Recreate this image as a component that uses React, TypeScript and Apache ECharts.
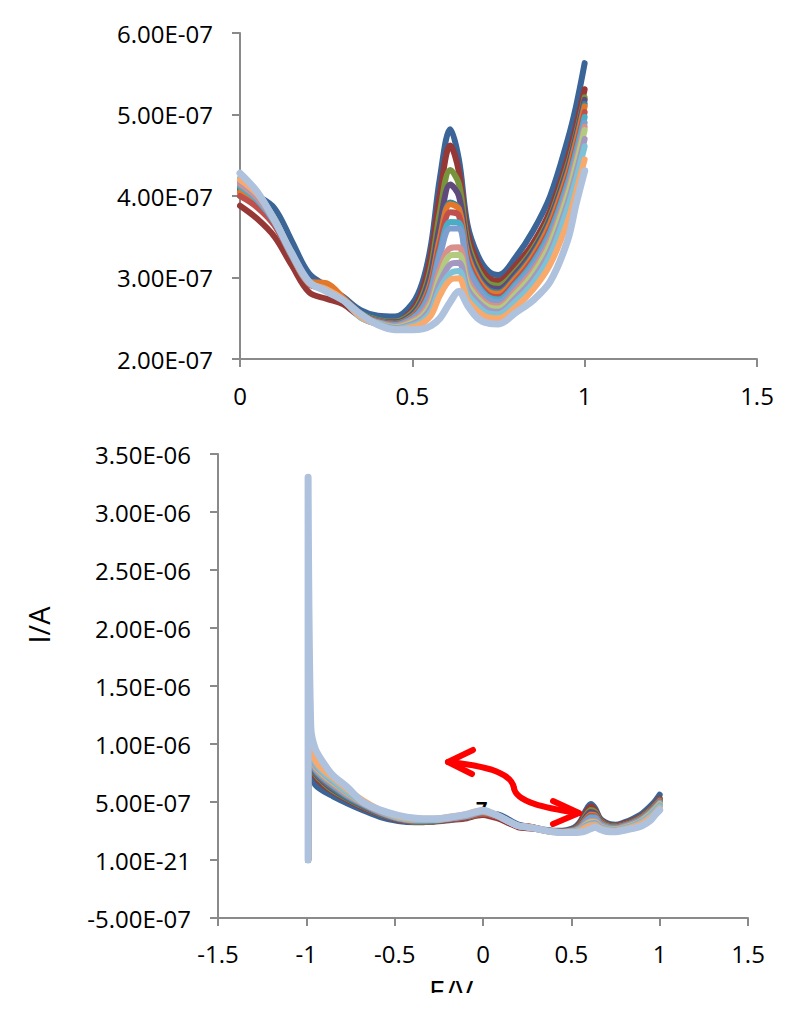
import { useEffect, useRef } from 'react';
import * as echarts from 'echarts';

// Potential E (V); the first two points are the start of the scan (current 0, then the spike)
const X = [-0.99, -0.99, -0.975, -0.95, -0.9, -0.85, -0.77, -0.68, -0.58, -0.48, -0.38, -0.28, -0.18, -0.09, -0.04,
  0, 0.05, 0.1, 0.15, 0.2, 0.25, 0.3, 0.35, 0.4, 0.45, 0.5, 0.53, 0.555, 0.58, 0.61, 0.635, 0.66, 0.69, 0.72, 0.75,
  0.8, 0.85, 0.9, 0.95, 0.975, 1];

// Currents in units of 1E-07 A
const S1 = [0, 9.5, 7.4, 6.5, 5.9, 5.5, 4.9, 4.3, 3.7, 3.35, 3.25, 3.35, 3.55, 3.75, 3.95,
  4.08, 4.00, 3.85, 3.45, 3.05, 2.90, 2.76, 2.60, 2.53, 2.52, 2.68, 2.95, 3.42, 4.22, 4.82, 4.45, 3.65, 3.27, 3.08, 3.03, 3.25, 3.57, 4.00, 4.68, 5.10, 5.63];
const S2 = [0, 9.8, 8.2, 7.2, 6.4, 5.9, 5.2, 4.5, 3.9, 3.45, 3.3, 3.3, 3.45, 3.6, 3.8,
  3.88, 3.72, 3.50, 3.15, 2.82, 2.74, 2.67, 2.52, 2.47, 2.46, 2.60, 2.85, 3.30, 4.02, 4.62, 4.30, 3.55, 3.18, 3.00, 2.96, 3.15, 3.42, 3.82, 4.45, 4.85, 5.31];
const S3 = [0, 10, 8.4, 7.4, 6.6, 6.0, 5.3, 4.6, 3.95, 3.5, 3.3, 3.35, 3.5, 3.7, 3.9,
  4.00, 3.88, 3.65, 3.28, 2.95, 2.90, 2.74, 2.56, 2.48, 2.46, 2.57, 2.78, 3.15, 3.80, 4.32, 4.15, 3.45, 3.10, 2.93, 2.90, 3.08, 3.35, 3.75, 4.37, 4.76, 5.21];
const S4 = [0, 10.2, 8.5, 7.5, 6.7, 6.1, 5.35, 4.65, 4.0, 3.5, 3.35, 3.35, 3.5, 3.7, 3.95,
  4.05, 3.90, 3.66, 3.27, 2.93, 2.86, 2.72, 2.55, 2.47, 2.45, 2.55, 2.74, 3.07, 3.65, 4.14, 4.00, 3.38, 3.05, 2.89, 2.86, 3.05, 3.32, 3.72, 4.33, 4.73, 5.18];
const S5 = [0, 10.5, 8.6, 7.6, 6.8, 6.2, 5.4, 4.7, 4.0, 3.55, 3.35, 3.4, 3.55, 3.75, 4.0,
  4.10, 3.93, 3.68, 3.28, 2.93, 2.88, 2.73, 2.55, 2.47, 2.44, 2.53, 2.70, 2.98, 3.50, 3.92, 3.85, 3.30, 3.00, 2.85, 2.82, 3.01, 3.28, 3.68, 4.28, 4.68, 5.13];
const S6 = [0, 22, 9.0, 8.0, 7.2, 6.6, 5.7, 4.9, 4.15, 3.65, 3.45, 3.45, 3.6, 3.8, 4.0,
  4.05, 3.90, 3.66, 3.28, 2.95, 2.93, 2.75, 2.55, 2.46, 2.43, 2.52, 2.68, 2.96, 3.48, 3.90, 3.84, 3.28, 2.98, 2.83, 2.80, 2.99, 3.26, 3.66, 4.26, 4.66, 5.10];
const S7 = [0, 10.8, 8.7, 7.7, 6.9, 6.3, 5.5, 4.75, 4.05, 3.55, 3.35, 3.4, 3.55, 3.75, 3.95,
  4.00, 3.86, 3.64, 3.26, 2.92, 2.86, 2.72, 2.54, 2.46, 2.43, 2.51, 2.66, 2.92, 3.40, 3.80, 3.76, 3.22, 2.94, 2.79, 2.76, 2.95, 3.22, 3.60, 4.20, 4.59, 5.03];
const S8 = [0, 11, 8.8, 7.8, 7.0, 6.4, 5.55, 4.8, 4.1, 3.6, 3.4, 3.4, 3.6, 3.8, 4.0,
  4.12, 3.95, 3.68, 3.27, 2.93, 2.86, 2.72, 2.53, 2.45, 2.42, 2.50, 2.63, 2.87, 3.32, 3.68, 3.67, 3.16, 2.90, 2.76, 2.73, 2.92, 3.18, 3.56, 4.15, 4.54, 4.97];
const S9 = [0, 11.5, 8.9, 7.9, 7.1, 6.5, 5.6, 4.85, 4.1, 3.6, 3.4, 3.45, 3.6, 3.8, 4.05,
  4.15, 3.97, 3.69, 3.27, 2.93, 2.85, 2.72, 2.53, 2.45, 2.41, 2.49, 2.61, 2.84, 3.27, 3.60, 3.60, 3.12, 2.87, 2.73, 2.70, 2.89, 3.14, 3.51, 4.10, 4.48, 4.90];
const S10 = [0, 12, 9.0, 8.0, 7.2, 6.6, 5.7, 4.9, 4.15, 3.65, 3.45, 3.45, 3.6, 3.8, 4.05,
  4.15, 3.98, 3.70, 3.28, 2.93, 2.85, 2.72, 2.52, 2.44, 2.40, 2.47, 2.56, 2.74, 3.10, 3.36, 3.37, 2.98, 2.78, 2.67, 2.65, 2.84, 3.08, 3.45, 4.04, 4.43, 4.85];
const S11 = [0, 13, 9.2, 8.1, 7.3, 6.7, 5.8, 4.95, 4.2, 3.65, 3.45, 3.45, 3.65, 3.85, 4.1,
  4.20, 4.02, 3.72, 3.29, 2.94, 2.85, 2.72, 2.52, 2.44, 2.39, 2.45, 2.53, 2.69, 3.02, 3.27, 3.28, 2.92, 2.74, 2.64, 2.62, 2.80, 3.04, 3.41, 4.00, 4.38, 4.81];
const S12 = [0, 14, 9.4, 8.2, 7.4, 6.8, 5.85, 5.0, 4.2, 3.7, 3.5, 3.5, 3.65, 3.85, 4.1,
  4.18, 4.00, 3.71, 3.29, 2.94, 2.84, 2.72, 2.51, 2.43, 2.38, 2.43, 2.50, 2.64, 2.94, 3.16, 3.18, 2.86, 2.70, 2.60, 2.58, 2.75, 2.98, 3.33, 3.91, 4.28, 4.70];
const S13 = [0, 16, 9.6, 8.4, 7.5, 6.9, 5.9, 5.05, 4.25, 3.7, 3.5, 3.5, 3.7, 3.9, 4.15,
  4.22, 4.03, 3.72, 3.30, 2.95, 2.84, 2.72, 2.51, 2.43, 2.37, 2.41, 2.47, 2.59, 2.86, 3.05, 3.08, 2.80, 2.65, 2.56, 2.55, 2.71, 2.93, 3.27, 3.84, 4.20, 4.61];
const S14 = [0, 19, 10.0, 8.6, 7.7, 7.1, 6.1, 5.15, 4.3, 3.75, 3.55, 3.55, 3.75, 3.95, 4.2,
  4.20, 4.02, 3.71, 3.29, 2.94, 2.86, 2.73, 2.52, 2.42, 2.36, 2.39, 2.44, 2.54, 2.78, 2.97, 2.99, 2.73, 2.59, 2.51, 2.50, 2.64, 2.85, 3.16, 3.68, 4.05, 4.45];
const S15 = [0, 33, 11.5, 9.6, 8.3, 7.3, 6.3, 5.0, 4.3, 3.85, 3.6, 3.55, 3.7, 3.95, 4.15,
  4.28, 4.05, 3.70, 3.30, 2.95, 2.83, 2.72, 2.55, 2.42, 2.36, 2.36, 2.37, 2.41, 2.50, 2.70, 2.83, 2.66, 2.50, 2.44, 2.43, 2.57, 2.72, 2.95, 3.45, 3.90, 4.31];

const SERIES = [S1, S2, S3, S4, S5, S6, S7, S8, S9, S10, S11, S12, S13, S14, S15];
const COLORS = ['#3B6497', '#963836', '#77933C', '#604A7B', '#31859C', '#E4782A', '#C0504D', '#4BACC6',
  '#7E9ECF', '#D98F8C', '#B2CB80', '#A598C0', '#7DC2D6', '#F9A96C', '#AEC1DD'];

const TOP_X_TICKS = ['0', '0.5', '1', '1.5'];
const TOP_Y_TICKS = ['2.00E-07', '3.00E-07', '4.00E-07', '5.00E-07', '6.00E-07'];
const BOT_X_TICKS = ['-1.5', '-1', '-0.5', '0', '0.5', '1', '1.5'];
const BOT_Y_TICKS = ['-5.00E-07', '1.00E-21', '5.00E-07', '1.00E-06', '1.50E-06', '2.00E-06', '2.50E-06', '3.00E-06', '3.50E-06'];
const Y_TITLE = 'I/A';
const X_TITLE = 'E/V';
const STRAY_LABEL = '7';

const FONT = '"Open Sans", "Noto Sans", sans-serif';
const AXIS_COLOR = '#8A8A8A';

function axisCommon() {
  return {
    axisLine: { show: true, onZero: false, lineStyle: { color: AXIS_COLOR, width: 2 } },
    axisTick: { show: true, length: 8, lineStyle: { color: AXIS_COLOR, width: 2 } },
    splitLine: { show: false },
    axisLabel: { color: '#000', fontSize: 24, fontFamily: FONT },
  };
}

export default function App() {
  const ref = useRef<HTMLDivElement>(null);
  useEffect(() => {
    const chart = echarts.init(ref.current!, null, { renderer: 'svg' });
    const top: any[] = [];
    const bottom: any[] = [];
    SERIES.forEach((vals, i) => {
      const full = X.map((x, j) => [x, vals[j]]);
      const lw = i === SERIES.length - 1 ? 7 : 6;
      top.push({
        type: 'line', name: 'Scan ' + (i + 1), xAxisIndex: 0, yAxisIndex: 0,
        data: full.filter((p) => p[0] >= 0), showSymbol: false, smooth: 0.35, clip: true,
        lineStyle: { color: COLORS[i], width: lw, cap: 'round', join: 'round' },
        itemStyle: { color: COLORS[i] }, silent: true,
      });
      bottom.push({
        type: 'line', name: 'Scan ' + (i + 1), xAxisIndex: 1, yAxisIndex: 1,
        data: full, showSymbol: false, smooth: 0.3, clip: true,
        lineStyle: { color: COLORS[i], width: lw, cap: 'round', join: 'round' },
        itemStyle: { color: COLORS[i] }, silent: true,
      });
    });

    const arrowStyle = { stroke: '#FF0000', lineWidth: 6, fill: null, lineCap: 'round', lineJoin: 'round' };

    chart.setOption({
      animation: false,
      backgroundColor: '#fff',
      textStyle: { fontFamily: FONT },
      grid: [
        { left: 240, top: 33, width: 517, height: 326 },
        { left: 218, top: 454, width: 530, height: 464 },
      ],
      xAxis: [
        {
          ...axisCommon(), gridIndex: 0, type: 'value', min: 0, max: 1.5, interval: 0.5,
          axisLabel: { ...axisCommon().axisLabel, margin: 24, formatter: (v: number) => TOP_X_TICKS[Math.round(v / 0.5)] },
        },
        {
          ...axisCommon(), gridIndex: 1, type: 'value', min: -1.5, max: 1.5, interval: 0.5,
          axisLabel: { ...axisCommon().axisLabel, margin: 23, formatter: (v: number) => BOT_X_TICKS[Math.round((v + 1.5) / 0.5)] },
        },
      ],
      yAxis: [
        {
          ...axisCommon(), gridIndex: 0, type: 'value', min: 2, max: 6, interval: 1,
          axisLabel: { ...axisCommon().axisLabel, margin: 27, formatter: (v: number) => TOP_Y_TICKS[Math.round(v - 2)] },
        },
        {
          ...axisCommon(), gridIndex: 1, type: 'value', min: -5, max: 35, interval: 5,
          axisLabel: { ...axisCommon().axisLabel, margin: 27, formatter: (v: number) => BOT_Y_TICKS[Math.round((v + 5) / 5)] },
        },
      ],
      series: top.concat(bottom),
      graphic: [
        {
          type: 'text', z: 0, left: 476, top: 798,
          style: { text: STRAY_LABEL, fontSize: 20, fontFamily: FONT, fontWeight: 'bold', fill: '#000' },
        },
        {
          type: 'text', z: 5, x: 38, y: 625, rotation: Math.PI / 2,
          style: { text: Y_TITLE, fontSize: 29, fontFamily: FONT, fill: '#000', align: 'center', verticalAlign: 'middle' },
        },
        {
          type: 'text', z: 5, x: 451, y: 976,
          style: { text: X_TITLE, fontSize: 29, fontFamily: FONT, fill: '#000', align: 'center', verticalAlign: 'top' },
        },
        {
          type: 'group', z: 100,
          children: [
            {
              type: 'bezierCurve', z: 100,
              shape: { x1: 448, y1: 762, cpx1: 490, cpy1: 766, cpx2: 512, cpy2: 774, x2: 514, y2: 788 },
              style: arrowStyle,
            },
            {
              type: 'bezierCurve', z: 100,
              shape: { x1: 514, y1: 788, cpx1: 516, cpy1: 802, cpx2: 545, cpy2: 808, x2: 578, y2: 813 },
              style: arrowStyle,
            },
            {
              type: 'polyline', z: 100,
              shape: { points: [[473, 750], [448, 762], [472, 774]] },
              style: arrowStyle,
            },
            {
              type: 'polyline', z: 100,
              shape: { points: [[553, 801], [579, 813], [553, 824]] },
              style: arrowStyle,
            },
          ],
        },
      ],
    });
    return () => chart.dispose();
  }, []);
  return (
    <div
      ref={ref}
      style={{ position: 'absolute', left: 0, top: 0, width: 800, height: 993, overflow: 'hidden', background: '#fff' }}
    />
  );
}
